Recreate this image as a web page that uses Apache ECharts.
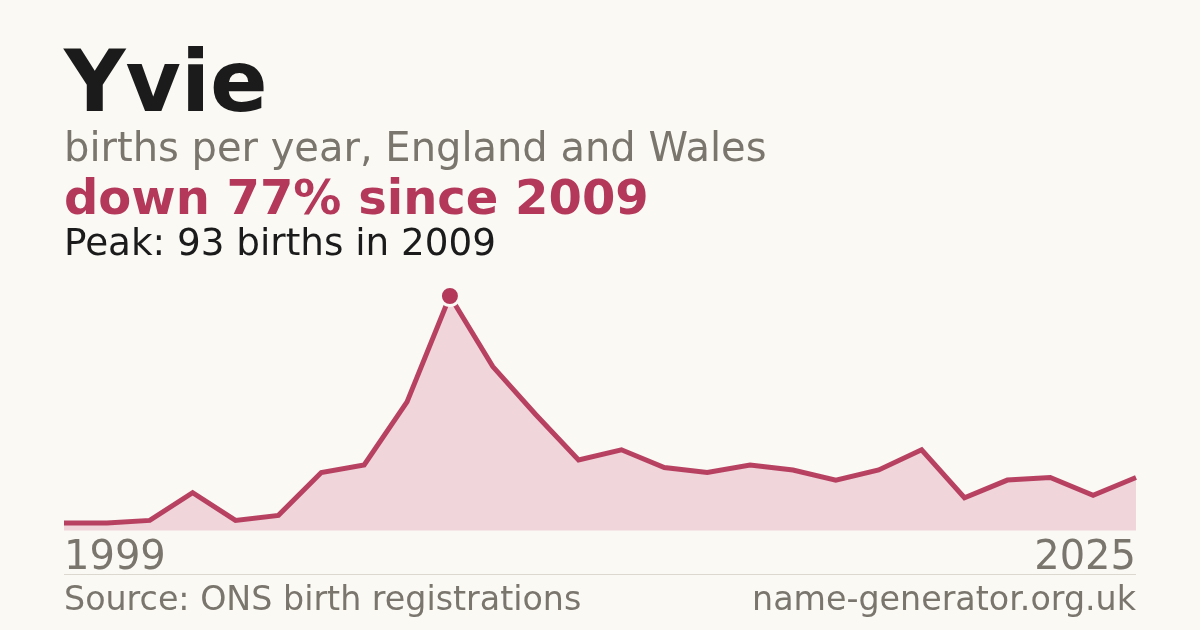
<!DOCTYPE html>
<html>
<head>
<meta charset="utf-8">
<script src="https://cdn.jsdelivr.net/npm/echarts@6/dist/echarts.min.js"></script>
<style>
html,body{margin:0;padding:0;background:#faf9f4;}
#chart{width:1200px;height:630px;}
</style>
</head>
<body>
<div id="chart"></div>
<script>
// Data
const years = [1999, 2001, 2002, 2003, 2004, 2005, 2006, 2007, 2008, 2009, 2010, 2011, 2012,
  2013, 2014, 2015, 2016, 2017, 2018, 2019, 2020, 2021, 2022, 2023, 2024, 2025];
const births = [3, 3, 4, 15, 4, 6, 23, 26, 51, 93, 65, 46, 28,
  32, 25, 23, 26, 24, 20, 24, 32, 13, 20, 21, 14, 21];
const nameText = 'Yvie';
const subtitleText = 'births per year, England and Wales';
const changeText = 'down 77% since 2009';
const peakText = 'Peak: 93 births in 2009';
const sourceText = 'Source: ONS birth registrations';
const siteText = 'name-generator.org.uk';

const FONT = '"DejaVu Sans", sans-serif';
const RED = '#b3385a';
const GREY = '#7a756d';
const DARK = '#1b1b1b';

const peakVal = Math.max(...births);
const peakIdx = births.indexOf(peakVal);
const lastIdx = years.length - 1;

function txt(text, x, baseline, size, color, weight, align) {
  return {
    type: 'text',
    style: {
      text: text, x: x, y: baseline - 0.346 * size,
      font: (weight || 'normal') + ' ' + size + 'px ' + FONT,
      fill: color, align: align || 'left', verticalAlign: 'middle'
    }
  };
}

const chart = echarts.init(document.getElementById('chart'), null, {renderer: 'canvas'});
chart.setOption({
  backgroundColor: '#faf9f4',
  animation: false,
  grid: {left: 64, right: 64, top: 296, bottom: 99.5},
  xAxis: {
    type: 'category',
    data: years.map(String),
    boundaryGap: false,
    axisLine: {show: false},
    axisTick: {show: false},
    splitLine: {show: false},
    axisLabel: {
      interval: function (i) { return i === 0 || i === lastIdx; },
      fontSize: 40,
      fontFamily: FONT,
      color: GREY,
      margin: 8,
      alignMinLabel: 'left',
      alignMaxLabel: 'right'
    }
  },
  yAxis: {
    type: 'value', min: 0, max: peakVal, show: false,
    splitLine: {show: false}
  },
  series: [{
    type: 'line',
    data: births,
    showSymbol: false,
    symbol: 'none',
    clip: false,
    lineStyle: {color: RED, width: 5, opacity: 0.95, join: 'miter'},
    areaStyle: {color: '#f0d5db', opacity: 1},
    z: 2
  }, {
    type: 'scatter',
    data: [[peakIdx, peakVal]],
    symbol: 'circle',
    symbolSize: 19,
    clip: false,
    itemStyle: {color: RED, borderColor: '#faf9f4', borderWidth: 3, opacity: 1},
    z: 5
  }],
  graphic: [
    txt(nameText, 64, 118, 85, DARK, 'bold'),
    txt(subtitleText, 64, 164, 40, GREY),
    txt(changeText, 64, 218.5, 48, RED, 'bold'),
    txt(peakText, 64, 258, 37.3, DARK),
    {
      type: 'line',
      shape: {x1: 64, y1: 574.5, x2: 1136, y2: 574.5},
      style: {stroke: '#dcd8d0', lineWidth: 1}
    },
    txt(sourceText, 64, 612.5, 33.3, GREY),
    txt(siteText, 1136, 612.5, 33.3, GREY, 'normal', 'right')
  ]
});
</script>
</body>
</html>
